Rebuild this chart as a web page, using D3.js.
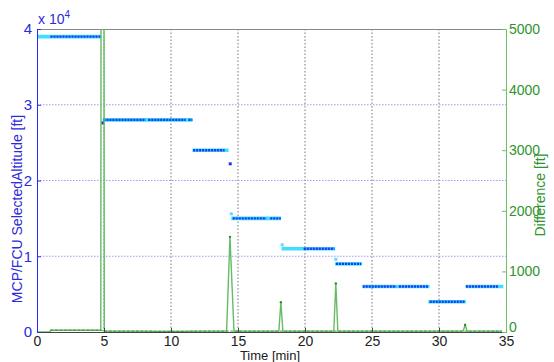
<!DOCTYPE html>
<html>
<head>
<meta charset="utf-8">
<script src="https://cdn.jsdelivr.net/npm/d3@7"></script>
<style>
  html, body { margin: 0; padding: 0; background: #fff; }
  svg { display: block; font-family: "Liberation Sans", Arial, sans-serif; }
</style>
</head>
<body>
<svg id="chart" width="554" height="362"></svg>
<script>
// Selected altitude levels (ft): start/end time (min) of each held level
const levelStart = [0, 4.9, 11.6, 14.5, 18.25, 22.25, 24.3, 29.2, 32.0];
const levelEnd   = [4.8, 11.6, 14.3, 18.2, 22.25, 24.25, 29.3, 32.0, 34.8];
const levelAlt   = [39000, 28000, 24000, 15000, 11000, 9000, 6000, 4000, 6000];

// Runs where the second source reports the same level (dense samples)
const runStart = [1.0, 4.95, 8.3, 11.3, 11.65, 14.6, 17.4, 19.9, 22.3, 24.3, 27.0, 29.3, 32.0];
const runEnd   = [4.8, 8.1, 11.1, 11.6, 14.0, 17.1, 18.2, 22.2, 24.2, 26.8, 29.2, 31.9, 34.4];
const runAlt   = [39000, 28000, 28000, 28000, 24000, 15000, 15000, 11000, 9000, 6000, 6000, 4000, 6000];

// Isolated transition samples
const transT   = [4.9, 14.42, 14.5, 18.3, 22.3];
const transAlt = [27600, 22200, 15600, 11500, 9600];

// Difference between the two sources (ft)
const diffT = [0, 1.0, 1.0, 4.76, 4.8, 4.98, 5.02, 7.5, 10, 12.5, 14.15, 14.4, 14.7, 16, 18.05, 18.2, 18.35, 20, 22.15, 22.3, 22.45, 25, 28, 31.8, 31.95, 32.1, 34.7];
const diffV = [0, 0, 30, 30, 11000, 11000, 15, 15, 10, 15, 15, 1570, 15, 15, 15, 490, 15, 15, 15, 800, 15, 15, 15, 15, 115, 15, 15];

const xTicks = [0, 5, 10, 15, 20, 25, 30, 35];
const yTicks = [0, 1, 2, 3, 4];           // × 10^4 ft
const y2Ticks = [0, 1000, 2000, 3000, 4000, 5000];

const W = 554, H = 362;
const m = { left: 37, right: 48, top: 29, bottom: 30 };
const iw = W - m.left - m.right, ih = H - m.top - m.bottom;

const blue = "#2a2aff", blueText = "#2b2bdc", greenText = "#2f922f";

const svg = d3.select("#chart");
const g = svg.append("g").attr("transform", `translate(${m.left},${m.top})`);

const x = d3.scaleLinear().domain([0, 35]).range([0, iw]);
const y = d3.scaleLinear().domain([0, 40000]).range([ih, 0]);
const y2 = d3.scaleLinear().domain([0, 5000]).range([ih, 0]);

g.append("clipPath").attr("id", "plot").append("rect").attr("width", iw).attr("height", ih);

// Grid
g.append("g").selectAll("line").data(xTicks.slice(1, -1)).join("line")
  .attr("x1", d => x(d)).attr("x2", d => x(d)).attr("y1", 0).attr("y2", ih)
  .attr("stroke", "#777").attr("stroke-width", 1).attr("stroke-dasharray", "1.5,2");
g.append("g").selectAll("line").data(yTicks.slice(1, -1)).join("line")
  .attr("x1", 0).attr("x2", iw).attr("y1", d => y(d * 1e4)).attr("y2", d => y(d * 1e4))
  .attr("stroke", "#9a9aff").attr("stroke-width", 1).attr("stroke-dasharray", "1.5,1.5");

// Top border
g.append("line").attr("x1", 0).attr("x2", iw).attr("y1", 0.5).attr("y2", 0.5)
  .attr("stroke", "#888").attr("stroke-width", 1);

const plot = g.append("g").attr("clip-path", "url(#plot)");

// Selected-altitude levels (cyan)
plot.append("g").selectAll("line").data(levelAlt).join("line")
  .attr("x1", (d, i) => x(levelStart[i])).attr("x2", (d, i) => x(levelEnd[i]))
  .attr("y1", d => y(d)).attr("y2", d => y(d))
  .attr("stroke", "#3ee0ff").attr("stroke-width", 3.6);

// Dense sample runs (dark blue dots)
plot.append("g").selectAll("line").data(runAlt).join("line")
  .attr("x1", (d, i) => x(runStart[i])).attr("x2", (d, i) => x(runEnd[i]))
  .attr("y1", d => y(d)).attr("y2", d => y(d))
  .attr("stroke", "#1d3cf0").attr("stroke-width", 2.4).attr("stroke-dasharray", "2.2,0.8");

plot.append("g").selectAll("rect").data(transAlt).join("rect")
  .attr("x", (d, i) => x(transT[i]) - 1.5).attr("y", d => y(d) - 1.5)
  .attr("width", 3).attr("height", 3)
  .attr("fill", (d, i) => i < 2 ? "#2233ee" : "#55ddff");

// Difference series (green)
const diffPts = diffT.map((t, i) => [t, diffV[i]]);
plot.append("path").datum(diffPts)
  .attr("d", d3.line().x(d => x(d[0])).y(d => y2(d[1])))
  .attr("fill", "none").attr("stroke", "#66bb66").attr("stroke-width", 1.4);
plot.append("g").selectAll("circle").data(diffPts.filter(d => d[1] > 50)).join("circle")
  .attr("cx", d => x(d[0])).attr("cy", d => y2(d[1])).attr("r", 1.2)
  .attr("fill", "#2f8a2f");
// Baseline samples
plot.append("path").datum(diffPts.filter(d => d[1] > 0 && d[1] < 50))
  .attr("d", d3.line().x(d => x(d[0])).y(d => y2(d[1])))
  .attr("fill", "none").attr("stroke", "#2f8a2f").attr("stroke-width", 1.2)
  .attr("stroke-dasharray", "3,1.5").attr("opacity", 0.7);

// Axes
const xAxis = g.append("g").attr("transform", `translate(0,${ih})`)
  .call(d3.axisBottom(x).tickValues(xTicks).tickSize(-4).tickPadding(4));
xAxis.select(".domain").attr("stroke", "#444");
xAxis.selectAll(".tick line").attr("stroke", "#444");
xAxis.selectAll("text").attr("fill", "#222").attr("font-size", 14);

const yAxis = g.append("g")
  .call(d3.axisLeft(y).tickValues(yTicks.map(v => v * 1e4)).tickFormat(d => d / 1e4)
    .tickSize(-4).tickPadding(5));
yAxis.select(".domain").attr("stroke", blue);
yAxis.selectAll(".tick line").attr("stroke", blue);
yAxis.selectAll("text").attr("fill", blueText).attr("font-size", 15);

const y2Axis = g.append("g").attr("transform", `translate(${iw},0)`)
  .call(d3.axisRight(y2).tickValues(y2Ticks).tickFormat(d3.format("d")).tickSize(-4).tickPadding(3));
y2Axis.select(".domain").attr("stroke", "#6cc06c");
y2Axis.selectAll(".tick line").attr("stroke", "#6cc06c");
y2Axis.selectAll("text").attr("fill", greenText).attr("font-size", 14);
// Lift the lowest right-hand label clear of the time labels
y2Axis.selectAll(".tick").filter(d => d === 0).select("text").attr("dy", "-0.05em");

// Exponent
const ex = svg.append("text").attr("x", 38).attr("y", 24).attr("fill", blueText).attr("font-size", 14);
ex.append("tspan").text("x 10");
ex.append("tspan").attr("dy", -6).attr("font-size", 10).text("4");

// Axis titles
svg.append("text").attr("x", 270).attr("y", 360).attr("text-anchor", "middle")
  .attr("fill", "#222").attr("font-size", 13).text("Time [min]");
svg.append("text").attr("transform", "translate(22,209) rotate(-90)").attr("text-anchor", "middle")
  .attr("fill", blueText).attr("font-size", 14).text("MCP/FCU SelectedAltitude [ft]");
svg.append("text").attr("transform", "translate(545,195) rotate(-90)").attr("text-anchor", "middle")
  .attr("fill", greenText).attr("font-size", 14).text("Difference [ft]");
</script>
</body>
</html>
